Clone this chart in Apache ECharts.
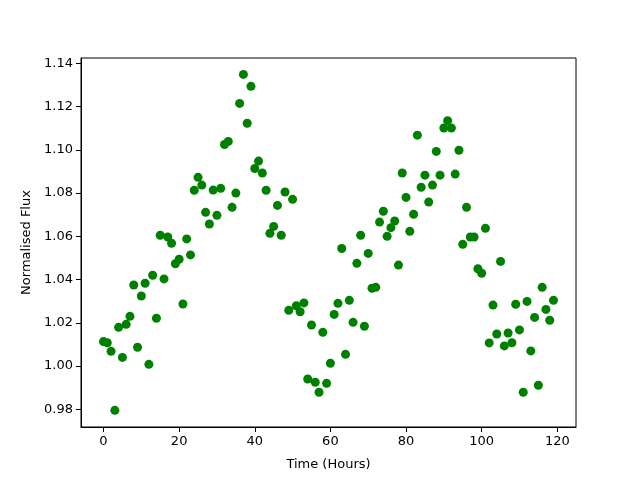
<!DOCTYPE html>
<html>
<head>
<meta charset="utf-8">
<title>Normalised Flux</title>
<script src="https://cdn.jsdelivr.net/npm/echarts@6/dist/echarts.min.js"></script>
<style>
  html, body { margin: 0; padding: 0; background: #fff; }
  #chart { width: 640px; height: 480px; }
</style>
</head>
<body>
<div id="chart"></div>
<script>
// time in hours, one reading per hour
const hours = Array.from({ length: 120 }, (_, i) => i);

// normalised flux
const flux = [
  1.0113, 1.0108, 1.0068, 0.9795, 1.0179, 1.0040, 1.0193, 1.0230, 1.0375, 1.0087,
  1.0324, 1.0383, 1.0008, 1.0420, 1.0221, 1.0605, 1.0403, 1.0597, 1.0568, 1.0473,
  1.0494, 1.0287, 1.0588, 1.0514, 1.0813, 1.0873, 1.0837, 1.0711, 1.0657, 1.0814,
  1.0697, 1.0822, 1.1025, 1.1039, 1.0734, 1.0800, 1.1215, 1.1349, 1.1123, 1.1294,
  1.0914, 1.0948, 1.0893, 1.0813, 1.0614, 1.0646, 1.0743, 1.0605, 1.0805, 1.0258,
  1.0771, 1.0279, 1.0251, 1.0292, 0.9940, 1.0190, 0.9925, 0.9879, 1.0156, 0.9920,
  1.0013, 1.0239, 1.0290, 1.0544, 1.0054, 1.0304, 1.0202, 1.0475, 1.0605, 1.0184,
  1.0521, 1.0360, 1.0364, 1.0666, 1.0716, 1.0600, 1.0640, 1.0671, 1.0467, 1.0893,
  1.0780, 1.0623, 1.0702, 1.1068, 1.0827, 1.0883, 1.0759, 1.0837, 1.0993, 1.0883,
  1.1101, 1.1135, 1.1101, 1.0888, 1.0998, 1.0563, 1.0734, 1.0597, 1.0597, 1.0450,
  1.0429, 1.0637, 1.0107, 1.0282, 1.0148, 1.0484, 1.0093, 1.0153, 1.0108, 1.0286,
  1.0167, 0.9879, 1.0299, 1.0070, 1.0225, 0.9911, 1.0364, 1.0262, 1.0212, 1.0304
];

const xTicks = [0, 20, 40, 60, 80, 100, 120];
const yTicks = [0.98, 1.00, 1.02, 1.04, 1.06, 1.08, 1.10, 1.12, 1.14];

const chart = echarts.init(document.getElementById('chart'));

const tickLabel = { fontFamily: 'DejaVu Sans', fontSize: 13, color: '#000' };

chart.setOption({
  animation: false,
  grid: {
    left: 81, right: 64, top: 58, bottom: 53,
    show: true, borderColor: '#000', borderWidth: 1, backgroundColor: '#fff'
  },
  xAxis: {
    type: 'value',
    min: -5.95,
    max: 124.95,
    name: 'Time (Hours)',
    nameLocation: 'middle',
    nameGap: 31,
    nameTextStyle: { fontFamily: 'DejaVu Sans', fontSize: 13, color: '#000' },
    axisLine: { show: true, onZero: false, lineStyle: { color: '#000', width: 1 } },
    axisTick: { show: true, length: 5, lineStyle: { color: '#000' }, customValues: xTicks },
    axisLabel: { ...tickLabel, margin: 8, customValues: xTicks, formatter: v => String(v) },
    splitLine: { show: false }
  },
  yAxis: {
    type: 'value',
    min: 0.9718,
    max: 1.1425,
    name: 'Normalised Flux',
    nameLocation: 'middle',
    nameGap: 47,
    nameTextStyle: { fontFamily: 'DejaVu Sans', fontSize: 13, color: '#000' },
    axisLine: { show: true, onZero: false, lineStyle: { color: '#000', width: 1 } },
    axisTick: { show: true, length: 5, lineStyle: { color: '#000' }, customValues: yTicks },
    axisLabel: { ...tickLabel, margin: 8, customValues: yTicks, formatter: v => v.toFixed(2) },
    splitLine: { show: false }
  },
  series: [{
    type: 'scatter',
    data: hours.map((h, i) => [h, flux[i]]),
    symbol: 'circle',
    symbolSize: 9,
    itemStyle: { color: '#008000', opacity: 1 }
  }]
});
</script>
</body>
</html>
